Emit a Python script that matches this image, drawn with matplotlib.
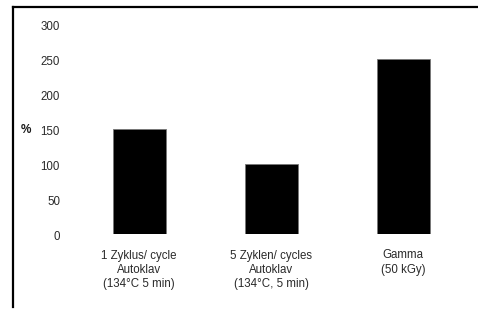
import matplotlib
matplotlib.use("Agg")
import matplotlib.pyplot as plt
from matplotlib.lines import Line2D
import matplotlib.transforms as mtransforms

categories = ["1 Zyklus/ cycle\nAutoklav\n(134°C 5 min)",
              "5 Zyklen/ cycles\nAutoklav\n(134°C, 5 min)",
              "Gamma\n(50 kGy)"]
values = [150, 100, 250]
yticks = [0, 50, 100, 150, 200, 250, 300]

W, H = 478, 309
fig = plt.figure(figsize=(W / 100, H / 100), dpi=100)
plt.rcParams['font.family'] = ['Liberation Sans', 'DejaVu Sans']

# axes in pixel coordinates
left_px, right_px = 73.2, 469.2
top_px, bottom_px = 24.3, 234.3
ax = fig.add_axes([left_px / W, 1 - bottom_px / H,
                   (right_px - left_px) / W, (bottom_px - top_px) / H])

x = list(range(len(categories)))
ax.bar(x, values, width=0.4, color='black', edgecolor='#777777', linewidth=0.6)
ax.set_xlim(-0.5, len(categories) - 0.5)
ax.set_ylim(0, 300)

for s in ax.spines.values():
    s.set_visible(False)
ax.set_yticks(yticks)
ax.set_yticklabels([str(v) for v in yticks], fontsize=8.3, color='#2a2a2a')
ax.tick_params(axis='y', length=0, pad=9.5)
offset = mtransforms.ScaledTranslation(0, -1.5 / 100, fig.dpi_scale_trans)
for lab in ax.get_yticklabels():
    lab.set_transform(lab.get_transform() + offset)
ax.set_xticks([])

trans = mtransforms.blended_transform_factory(ax.transData, fig.transFigure)
for xi, cat in zip(x, categories):
    ax.text(xi, 1 - 249.5 / H, cat, transform=trans, ha='center', va='top',
            fontsize=8.3, linespacing=1.27, color='#2a2a2a')

fig.text(20.5 / W, 1 - 130 / H, "%", ha='left', va='center', fontsize=8.5,
         fontweight='bold', color='#1a1a1a')

# frame lines
fig.add_artist(Line2D([13.3 / W, 1.0], [1 - 7.3 / H, 1 - 7.3 / H],
                      transform=fig.transFigure, color='black', linewidth=1.6))
fig.add_artist(Line2D([13.3 / W, 13.3 / W], [1 - 7.3 / H, 1 - 307 / H],
                      transform=fig.transFigure, color='black', linewidth=1.6))

fig.savefig("out.png", dpi=100)
